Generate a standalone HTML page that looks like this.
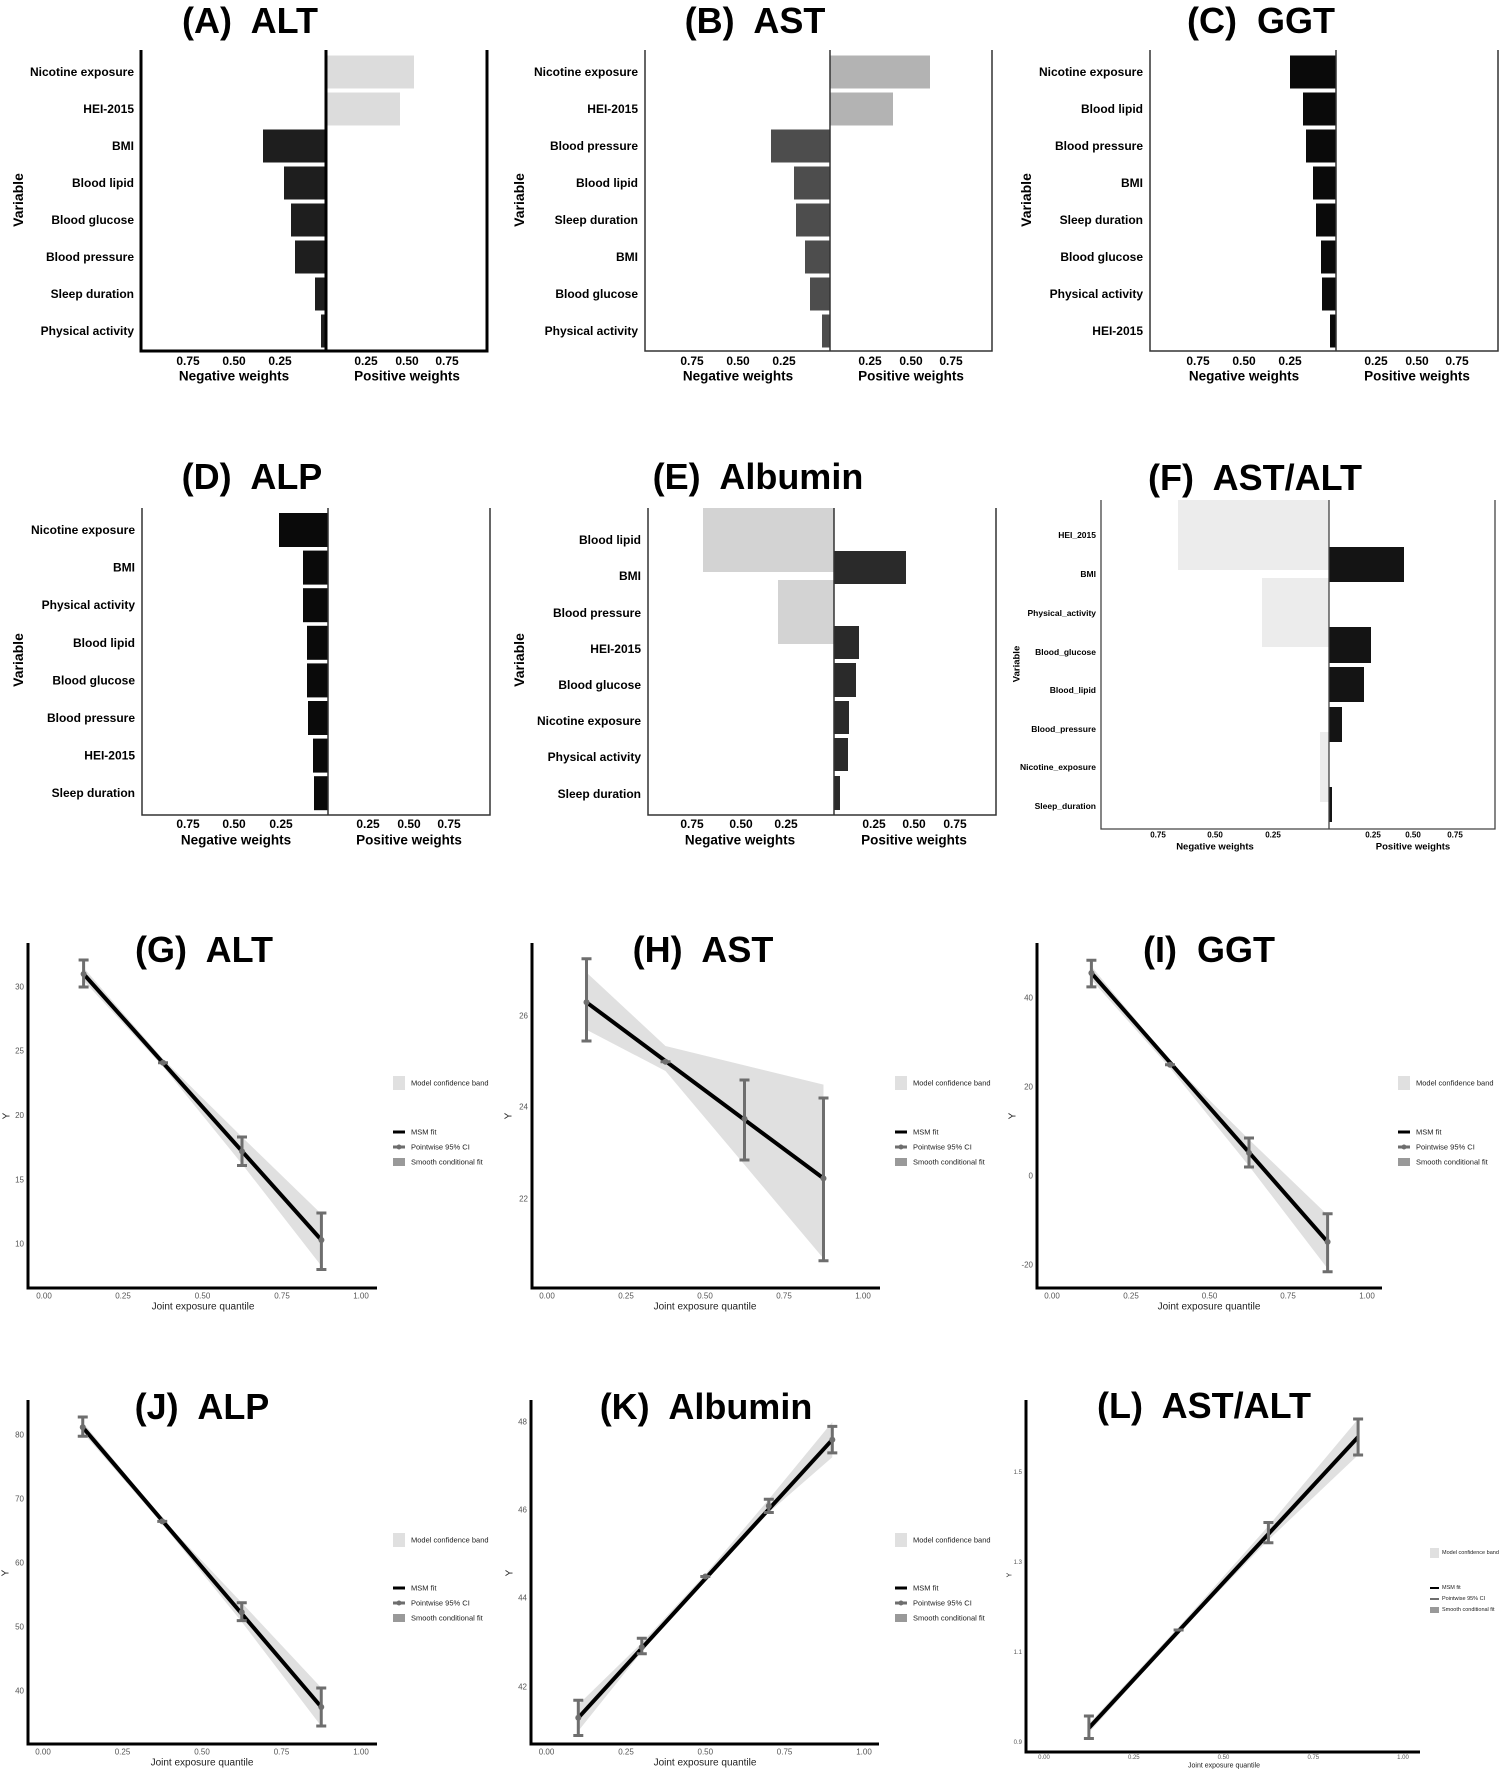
<!DOCTYPE html>
<html><head><meta charset="utf-8"><style>
html,body{margin:0;padding:0;background:#fff}
svg{display:block}
text{font-family:"Liberation Sans",Arial,sans-serif}
.t{font-size:36px;font-weight:bold;text-anchor:middle}
.lb{font-size:12px;font-weight:bold;text-anchor:end;dominant-baseline:central}
.lf{font-size:8.5px;font-weight:bold;text-anchor:end;dominant-baseline:central}
.tk{font-size:12px;font-weight:bold;text-anchor:middle;dominant-baseline:central}
.tkf{font-size:8px;font-weight:bold;text-anchor:middle;dominant-baseline:central}
.at{font-size:13.5px;font-weight:bold;text-anchor:middle;dominant-baseline:central}
.atf{font-size:9.5px;font-weight:bold;text-anchor:middle;dominant-baseline:central}
.vr{font-size:14px;font-weight:bold;text-anchor:middle;dominant-baseline:central}
.yt{font-size:8px;fill:#555;text-anchor:end;dominant-baseline:central}
.xt{font-size:8px;fill:#555;text-anchor:middle;dominant-baseline:central}
.xa{font-size:10px;fill:#222;text-anchor:middle;dominant-baseline:central}
.lg{font-size:7.5px;fill:#222;dominant-baseline:central}
.lgs{font-size:5.5px;fill:#222;dominant-baseline:central}
</style></head><body>
<svg width="1506" height="1772" viewBox="0 0 1506 1772" xmlns="http://www.w3.org/2000/svg">
<rect width="1506" height="1772" fill="#fff"/>

<!-- ===== A ===== -->
<text class="t" x="250" y="33" xml:space="preserve">(A)  ALT</text>
<g fill="#dcdcdc"><rect x="326" y="55.5" width="88" height="33"/><rect x="326" y="92.5" width="74" height="33"/></g>
<g fill="#1e1e1e"><rect x="263" y="129.5" width="63" height="33"/><rect x="284" y="166.5" width="42" height="33"/><rect x="291" y="203.5" width="35" height="33"/><rect x="295" y="240.5" width="31" height="33"/><rect x="315" y="277.5" width="11" height="33"/><rect x="321" y="314.5" width="5" height="33"/></g>
<g stroke="#000" stroke-width="3" fill="none"><path d="M141 50V351H487V50M326 50V351"/></g>
<text class="lb" x="134" y="72">Nicotine exposure</text><text class="lb" x="134" y="109">HEI-2015</text><text class="lb" x="134" y="146">BMI</text><text class="lb" x="134" y="183">Blood lipid</text><text class="lb" x="134" y="220">Blood glucose</text><text class="lb" x="134" y="257">Blood pressure</text><text class="lb" x="134" y="294">Sleep duration</text><text class="lb" x="134" y="331">Physical activity</text>
<text class="tk" x="188" y="361">0.75</text><text class="tk" x="234" y="361">0.50</text><text class="tk" x="280" y="361">0.25</text><text class="tk" x="366" y="361">0.25</text><text class="tk" x="407" y="361">0.50</text><text class="tk" x="447" y="361">0.75</text>
<text class="at" x="234" y="376">Negative weights</text><text class="at" x="407" y="376">Positive weights</text>
<text class="vr" transform="translate(18,200) rotate(-90)">Variable</text>

<!-- ===== B ===== -->
<text class="t" x="755" y="33" xml:space="preserve">(B)  AST</text>
<g fill="#b3b3b3"><rect x="830" y="55.5" width="100" height="33"/><rect x="830" y="92.5" width="63" height="33"/></g>
<g fill="#4d4d4d"><rect x="771" y="129.5" width="59" height="33"/><rect x="794" y="166.5" width="36" height="33"/><rect x="796" y="203.5" width="34" height="33"/><rect x="805" y="240.5" width="25" height="33"/><rect x="810" y="277.5" width="20" height="33"/><rect x="822" y="314.5" width="8" height="33"/></g>
<g stroke="#333" stroke-width="1.5" fill="none"><path d="M645 50V351H992V50M830 50V351"/></g>
<text class="lb" x="638" y="72">Nicotine exposure</text><text class="lb" x="638" y="109">HEI-2015</text><text class="lb" x="638" y="146">Blood pressure</text><text class="lb" x="638" y="183">Blood lipid</text><text class="lb" x="638" y="220">Sleep duration</text><text class="lb" x="638" y="257">BMI</text><text class="lb" x="638" y="294">Blood glucose</text><text class="lb" x="638" y="331">Physical activity</text>
<text class="tk" x="692" y="361">0.75</text><text class="tk" x="738" y="361">0.50</text><text class="tk" x="784" y="361">0.25</text><text class="tk" x="870" y="361">0.25</text><text class="tk" x="911" y="361">0.50</text><text class="tk" x="951" y="361">0.75</text>
<text class="at" x="738" y="376">Negative weights</text><text class="at" x="911" y="376">Positive weights</text>
<text class="vr" transform="translate(519,200) rotate(-90)">Variable</text>

<!-- ===== C ===== -->
<text class="t" x="1261" y="33" xml:space="preserve">(C)  GGT</text>
<g fill="#0a0a0a"><rect x="1290" y="55.5" width="46" height="33"/><rect x="1303" y="92.5" width="33" height="33"/><rect x="1306" y="129.5" width="30" height="33"/><rect x="1313" y="166.5" width="23" height="33"/><rect x="1316" y="203.5" width="20" height="33"/><rect x="1321" y="240.5" width="15" height="33"/><rect x="1322" y="277.5" width="14" height="33"/><rect x="1330" y="314.5" width="6" height="33"/></g>
<g stroke="#333" stroke-width="1.5" fill="none"><path d="M1150 50V351H1498V50M1336 50V351"/></g>
<text class="lb" x="1143" y="72">Nicotine exposure</text><text class="lb" x="1143" y="109">Blood lipid</text><text class="lb" x="1143" y="146">Blood pressure</text><text class="lb" x="1143" y="183">BMI</text><text class="lb" x="1143" y="220">Sleep duration</text><text class="lb" x="1143" y="257">Blood glucose</text><text class="lb" x="1143" y="294">Physical activity</text><text class="lb" x="1143" y="331">HEI-2015</text>
<text class="tk" x="1198" y="361">0.75</text><text class="tk" x="1244" y="361">0.50</text><text class="tk" x="1290" y="361">0.25</text><text class="tk" x="1376" y="361">0.25</text><text class="tk" x="1417" y="361">0.50</text><text class="tk" x="1457" y="361">0.75</text>
<text class="at" x="1244" y="376">Negative weights</text><text class="at" x="1417" y="376">Positive weights</text>
<text class="vr" transform="translate(1026,200) rotate(-90)">Variable</text>

<!-- ===== D ===== -->
<text class="t" x="252" y="489" xml:space="preserve">(D)  ALP</text>
<g fill="#0a0a0a"><rect x="279" y="513" width="49" height="34"/><rect x="303" y="550.6" width="25" height="34"/><rect x="303" y="588.2" width="25" height="34"/><rect x="307" y="625.8" width="21" height="34"/><rect x="307" y="663.4" width="21" height="34"/><rect x="308" y="701" width="20" height="34"/><rect x="313" y="738.6" width="15" height="34"/><rect x="314" y="776.2" width="14" height="34"/></g>
<g stroke="#333" stroke-width="1.5" fill="none"><path d="M142 508V815H490V508M328 508V815"/></g>
<text class="lb" x="135" y="530">Nicotine exposure</text><text class="lb" x="135" y="567.6">BMI</text><text class="lb" x="135" y="605.2">Physical activity</text><text class="lb" x="135" y="642.8">Blood lipid</text><text class="lb" x="135" y="680.4">Blood glucose</text><text class="lb" x="135" y="718">Blood pressure</text><text class="lb" x="135" y="755.6">HEI-2015</text><text class="lb" x="135" y="793.2">Sleep duration</text>
<text class="tk" x="188" y="824">0.75</text><text class="tk" x="234" y="824">0.50</text><text class="tk" x="281" y="824">0.25</text><text class="tk" x="368" y="824">0.25</text><text class="tk" x="409" y="824">0.50</text><text class="tk" x="449" y="824">0.75</text>
<text class="at" x="236" y="840">Negative weights</text><text class="at" x="409" y="840">Positive weights</text>
<text class="vr" transform="translate(18,660) rotate(-90)">Variable</text>

<!-- ===== E ===== -->
<text class="t" x="758" y="489" xml:space="preserve">(E)  Albumin</text>
<g fill="#d3d3d3"><rect x="703" y="508" width="131" height="64"/><rect x="778" y="580" width="56" height="64"/></g>
<g fill="#2a2a2a"><rect x="834" y="551" width="72" height="33"/><rect x="834" y="626" width="25" height="33"/><rect x="834" y="663" width="22" height="34"/><rect x="834" y="701" width="15" height="33"/><rect x="834" y="738" width="14" height="33"/><rect x="834" y="776" width="6" height="34"/></g>
<g stroke="#333" stroke-width="1.5" fill="none"><path d="M648 508V815H996V508M834 508V815"/></g>
<text class="lb" x="641" y="540">Blood lipid</text><text class="lb" x="641" y="576">BMI</text><text class="lb" x="641" y="613">Blood pressure</text><text class="lb" x="641" y="649">HEI-2015</text><text class="lb" x="641" y="685">Blood glucose</text><text class="lb" x="641" y="721">Nicotine exposure</text><text class="lb" x="641" y="757">Physical activity</text><text class="lb" x="641" y="794">Sleep duration</text>
<text class="tk" x="692" y="824">0.75</text><text class="tk" x="741" y="824">0.50</text><text class="tk" x="786" y="824">0.25</text><text class="tk" x="874" y="824">0.25</text><text class="tk" x="914" y="824">0.50</text><text class="tk" x="955" y="824">0.75</text>
<text class="at" x="740" y="840">Negative weights</text><text class="at" x="914" y="840">Positive weights</text>
<text class="vr" transform="translate(519,660) rotate(-90)">Variable</text>

<!-- ===== F ===== -->
<text class="t" x="1255" y="490" xml:space="preserve">(F)  AST/ALT</text>
<g fill="#ececec"><rect x="1178" y="500" width="151" height="70"/><rect x="1262" y="578" width="67" height="69"/><rect x="1320" y="732" width="9" height="70"/></g>
<g fill="#141414"><rect x="1329" y="547" width="75" height="35"/><rect x="1329" y="627" width="42" height="36"/><rect x="1329" y="667" width="35" height="35"/><rect x="1329" y="707" width="13" height="35"/><rect x="1329" y="787" width="3" height="35"/></g>
<g stroke="#444" stroke-width="1.3" fill="none"><path d="M1101 500V829H1495V500M1329 500V829"/></g>
<text class="lf" x="1096" y="535">HEI_2015</text><text class="lf" x="1096" y="574">BMI</text><text class="lf" x="1096" y="613">Physical_activity</text><text class="lf" x="1096" y="652">Blood_glucose</text><text class="lf" x="1096" y="690">Blood_lipid</text><text class="lf" x="1096" y="729">Blood_pressure</text><text class="lf" x="1096" y="767">Nicotine_exposure</text><text class="lf" x="1096" y="806">Sleep_duration</text>
<text class="tkf" x="1158" y="835">0.75</text><text class="tkf" x="1215" y="835">0.50</text><text class="tkf" x="1273" y="835">0.25</text><text class="tkf" x="1373" y="835">0.25</text><text class="tkf" x="1413" y="835">0.50</text><text class="tkf" x="1455" y="835">0.75</text>
<text class="atf" x="1215" y="847">Negative weights</text><text class="atf" x="1413" y="847">Positive weights</text>
<text class="atf" transform="translate(1017,664) rotate(-90)">Variable</text>

<!-- ===== G ===== -->
<text class="t" x="204" y="962" xml:space="preserve">(G)  ALT</text>
<polygon points="83.6,967.8 163,1059 242,1137 321.4,1214 321.4,1266 242,1164 163,1066.6 83.6,980.6" fill="#e0e0e0"/>
<line x1="83.6" y1="974" x2="321.4" y2="1240" stroke="#000" stroke-width="4"/>
<g stroke="#6e6e6e" stroke-width="3" fill="none"><path d="M83.6 987V960M78.6 987H88.6M78.6 960H88.6M242 1165.5V1137M237 1165.5H247M237 1137H247M321.4 1269.5V1213M316.4 1269.5H326.4M316.4 1213H326.4M158 1062.8H168"/></g>
<g fill="#6e6e6e"><circle cx="83.6" cy="974" r="3"/><circle cx="163" cy="1062.8" r="3"/><circle cx="242" cy="1151.4" r="3"/><circle cx="321.4" cy="1240" r="3"/></g>
<path d="M28 943V1288H377" stroke="#000" stroke-width="3" fill="none"/>
<text class="yt" x="24" y="987">30</text><text class="yt" x="24" y="1051">25</text><text class="yt" x="24" y="1115.5">20</text><text class="yt" x="24" y="1180">15</text><text class="yt" x="24" y="1244">10</text>
<text class="xt" x="44" y="1296">0.00</text><text class="xt" x="123" y="1296">0.25</text><text class="xt" x="202.5" y="1296">0.50</text><text class="xt" x="282" y="1296">0.75</text><text class="xt" x="361" y="1296">1.00</text>
<text class="xa" x="203" y="1307">Joint exposure quantile</text>
<text class="xa" transform="translate(7,1116) rotate(-90)">Y</text>
<g><rect x="393" y="1076" width="12" height="14" fill="#e0e0e0"/><text class="lg" x="411" y="1083">Model confidence band</text><line x1="393" y1="1132" x2="405" y2="1132" stroke="#000" stroke-width="3"/><text class="lg" x="411" y="1132">MSM fit</text><line x1="393" y1="1147" x2="405" y2="1147" stroke="#6e6e6e" stroke-width="3"/><circle cx="399" cy="1147" r="2.5" fill="#6e6e6e"/><text class="lg" x="411" y="1147">Pointwise 95% CI</text><rect x="393" y="1158" width="12" height="8" fill="#999"/><text class="lg" x="411" y="1162">Smooth conditional fit</text></g>

<!-- ===== H ===== -->
<text class="t" x="703" y="962" xml:space="preserve">(H)  AST</text>
<polygon points="586.5,972.5 665.5,1046 823.5,1084.6 823.5,1258.5 665.5,1071 586.5,1029.7" fill="#e0e0e0"/>
<line x1="586.5" y1="1002.3" x2="823.5" y2="1178.4" stroke="#000" stroke-width="4"/>
<g stroke="#6e6e6e" stroke-width="3" fill="none"><path d="M586.5 1041V958.8M581.5 1041H591.5M581.5 958.8H591.5M744.5 1160V1080M739.5 1160H749.5M739.5 1080H749.5M823.5 1260.8V1098M818.5 1260.8H828.5M818.5 1098H828.5M660.5 1061.8H670.5"/></g>
<g fill="#6e6e6e"><circle cx="586.5" cy="1002.3" r="3"/><circle cx="665.5" cy="1061.8" r="3"/><circle cx="744.5" cy="1118.9" r="3"/><circle cx="823.5" cy="1178.4" r="3"/></g>
<path d="M532 943V1288H880" stroke="#000" stroke-width="3" fill="none"/>
<text class="yt" x="528" y="1016">26</text><text class="yt" x="528" y="1107">24</text><text class="yt" x="528" y="1199">22</text>
<text class="xt" x="547" y="1296">0.00</text><text class="xt" x="626" y="1296">0.25</text><text class="xt" x="705" y="1296">0.50</text><text class="xt" x="784" y="1296">0.75</text><text class="xt" x="863" y="1296">1.00</text>
<text class="xa" x="705" y="1307">Joint exposure quantile</text>
<text class="xa" transform="translate(509,1116) rotate(-90)">Y</text>
<g><rect x="895" y="1076" width="12" height="14" fill="#e0e0e0"/><text class="lg" x="913" y="1083">Model confidence band</text><line x1="895" y1="1132" x2="907" y2="1132" stroke="#000" stroke-width="3"/><text class="lg" x="913" y="1132">MSM fit</text><line x1="895" y1="1147" x2="907" y2="1147" stroke="#6e6e6e" stroke-width="3"/><circle cx="901" cy="1147" r="2.5" fill="#6e6e6e"/><text class="lg" x="913" y="1147">Pointwise 95% CI</text><rect x="895" y="1158" width="12" height="8" fill="#999"/><text class="lg" x="913" y="1162">Smooth conditional fit</text></g>

<!-- ===== I ===== -->
<text class="t" x="1209" y="962" xml:space="preserve">(I)  GGT</text>
<polygon points="1091.4,966.4 1170,1061 1249,1139.5 1327.6,1215 1327.6,1268.6 1249,1166 1170,1068 1091.4,979.8" fill="#e0e0e0"/>
<line x1="1091.4" y1="973" x2="1327.6" y2="1241.9" stroke="#000" stroke-width="4"/>
<g stroke="#6e6e6e" stroke-width="3" fill="none"><path d="M1091.4 986.9V960.2M1086.4 986.9H1096.4M1086.4 960.2H1096.4M1249 1167V1138M1244 1167H1254M1244 1138H1254M1327.6 1271.7V1213.8M1322.6 1271.7H1332.6M1322.6 1213.8H1332.6M1165 1064.7H1175"/></g>
<g fill="#6e6e6e"><circle cx="1091.4" cy="973" r="3"/><circle cx="1170" cy="1064.7" r="3"/><circle cx="1249" cy="1152.9" r="3"/><circle cx="1327.6" cy="1241.9" r="3"/></g>
<path d="M1037 943V1288H1382" stroke="#000" stroke-width="3" fill="none"/>
<text class="yt" x="1033" y="998">40</text><text class="yt" x="1033" y="1087">20</text><text class="yt" x="1033" y="1176">0</text><text class="yt" x="1033" y="1265">-20</text>
<text class="xt" x="1052" y="1296">0.00</text><text class="xt" x="1131" y="1296">0.25</text><text class="xt" x="1209.5" y="1296">0.50</text><text class="xt" x="1288" y="1296">0.75</text><text class="xt" x="1367" y="1296">1.00</text>
<text class="xa" x="1209" y="1307">Joint exposure quantile</text>
<text class="xa" transform="translate(1013,1116) rotate(-90)">Y</text>
<g><rect x="1398" y="1076" width="12" height="14" fill="#e0e0e0"/><text class="lg" x="1416" y="1083">Model confidence band</text><line x1="1398" y1="1132" x2="1410" y2="1132" stroke="#000" stroke-width="3"/><text class="lg" x="1416" y="1132">MSM fit</text><line x1="1398" y1="1147" x2="1410" y2="1147" stroke="#6e6e6e" stroke-width="3"/><circle cx="1404" cy="1147" r="2.5" fill="#6e6e6e"/><text class="lg" x="1416" y="1147">Pointwise 95% CI</text><rect x="1398" y="1158" width="12" height="8" fill="#999"/><text class="lg" x="1416" y="1162">Smooth conditional fit</text></g>

<!-- ===== J ===== -->
<text class="t" x="202" y="1419" xml:space="preserve">(J)  ALP</text>
<polygon points="82.75,1422.2 162.25,1518.8 241.75,1602.7 321.25,1687.8 321.25,1726.2 241.75,1621.9 162.25,1524 82.75,1432.4" fill="#e0e0e0"/>
<line x1="82.75" y1="1427.3" x2="321.25" y2="1707" stroke="#000" stroke-width="4"/>
<g stroke="#6e6e6e" stroke-width="3" fill="none"><path d="M82.75 1436.3V1417M77.75 1436.3H87.75M77.75 1417H87.75M241.75 1620.6V1602.7M236.75 1620.6H246.75M236.75 1602.7H246.75M321.25 1726V1688M316.25 1726H326.25M316.25 1688H326.25M157.25 1521.4H167.25"/></g>
<g fill="#6e6e6e"><circle cx="82.75" cy="1427.3" r="3"/><circle cx="162.25" cy="1521.4" r="3"/><circle cx="241.75" cy="1612.3" r="3"/><circle cx="321.25" cy="1707" r="3"/></g>
<path d="M28 1400V1744H377" stroke="#000" stroke-width="3" fill="none"/>
<text class="yt" x="24" y="1435">80</text><text class="yt" x="24" y="1499">70</text><text class="yt" x="24" y="1563">60</text><text class="yt" x="24" y="1627">50</text><text class="yt" x="24" y="1691">40</text>
<text class="xt" x="43" y="1752">0.00</text><text class="xt" x="122.5" y="1752">0.25</text><text class="xt" x="202" y="1752">0.50</text><text class="xt" x="281.5" y="1752">0.75</text><text class="xt" x="361" y="1752">1.00</text>
<text class="xa" x="202" y="1763">Joint exposure quantile</text>
<text class="xa" transform="translate(6,1573) rotate(-90)">Y</text>
<g><rect x="393" y="1533" width="12" height="14" fill="#e0e0e0"/><text class="lg" x="411" y="1540">Model confidence band</text><line x1="393" y1="1588" x2="405" y2="1588" stroke="#000" stroke-width="3"/><text class="lg" x="411" y="1588">MSM fit</text><line x1="393" y1="1603" x2="405" y2="1603" stroke="#6e6e6e" stroke-width="3"/><circle cx="399" cy="1603" r="2.5" fill="#6e6e6e"/><text class="lg" x="411" y="1603">Pointwise 95% CI</text><rect x="393" y="1614" width="12" height="8" fill="#999"/><text class="lg" x="411" y="1618">Smooth conditional fit</text></g>

<!-- ===== K ===== -->
<text class="t" x="706" y="1419" xml:space="preserve">(K)  Albumin</text>
<polygon points="578.3,1704.6 641.8,1642.8 705.3,1574.3 768.8,1499.3 832.3,1422 832.3,1457.3 768.8,1512.5 705.3,1578.7 641.8,1651.6 578.3,1731" fill="#e0e0e0"/>
<line x1="578.3" y1="1717.8" x2="832.3" y2="1439.7" stroke="#000" stroke-width="4"/>
<g stroke="#6e6e6e" stroke-width="3" fill="none"><path d="M578.3 1735.5V1700.2M573.3 1735.5H583.3M573.3 1700.2H583.3M641.8 1653.8V1638.3M636.8 1653.8H646.8M636.8 1638.3H646.8M768.8 1512.5V1499.3M763.8 1512.5H773.8M763.8 1499.3H773.8M832.3 1452.9V1426.4M827.3 1452.9H837.3M827.3 1426.4H837.3M700.3 1576.5H710.3"/></g>
<g fill="#6e6e6e"><circle cx="578.3" cy="1717.8" r="3"/><circle cx="641.8" cy="1647.2" r="3"/><circle cx="705.3" cy="1576.5" r="3"/><circle cx="768.8" cy="1505.9" r="3"/><circle cx="832.3" cy="1439.7" r="3"/></g>
<path d="M531 1400V1744H879" stroke="#000" stroke-width="3" fill="none"/>
<text class="yt" x="527" y="1422">48</text><text class="yt" x="527" y="1510">46</text><text class="yt" x="527" y="1598">44</text><text class="yt" x="527" y="1687">42</text>
<text class="xt" x="546.5" y="1752">0.00</text><text class="xt" x="626" y="1752">0.25</text><text class="xt" x="705.3" y="1752">0.50</text><text class="xt" x="784.6" y="1752">0.75</text><text class="xt" x="864" y="1752">1.00</text>
<text class="xa" x="705" y="1763">Joint exposure quantile</text>
<text class="xa" transform="translate(510,1573) rotate(-90)">Y</text>
<g><rect x="895" y="1533" width="12" height="14" fill="#e0e0e0"/><text class="lg" x="913" y="1540">Model confidence band</text><line x1="895" y1="1588" x2="907" y2="1588" stroke="#000" stroke-width="3"/><text class="lg" x="913" y="1588">MSM fit</text><line x1="895" y1="1603" x2="907" y2="1603" stroke="#6e6e6e" stroke-width="3"/><circle cx="901" cy="1603" r="2.5" fill="#6e6e6e"/><text class="lg" x="913" y="1603">Pointwise 95% CI</text><rect x="895" y="1614" width="12" height="8" fill="#999"/><text class="lg" x="913" y="1618">Smooth conditional fit</text></g>

<!-- ===== L ===== -->
<text class="t" x="1204" y="1418" xml:space="preserve">(L)  AST/ALT</text>
<polygon points="1088.9,1723.6 1178.6,1627 1268.4,1526 1358.1,1419 1358.1,1455 1268.4,1540 1178.6,1633 1088.9,1732.6" fill="#e0e0e0"/>
<line x1="1088.9" y1="1728" x2="1358.1" y2="1437" stroke="#000" stroke-width="4"/>
<g stroke="#6e6e6e" stroke-width="3" fill="none"><path d="M1088.9 1738.5V1716M1083.9 1738.5H1093.9M1083.9 1716H1093.9M1268.4 1542.8V1522.5M1263.4 1542.8H1273.4M1263.4 1522.5H1273.4M1358.1 1455V1419M1353.1 1455H1363.1M1353.1 1419H1363.1M1173.6 1630H1183.6"/></g>
<path d="M1026 1400V1752H1420" stroke="#000" stroke-width="3" fill="none"/>
<text class="yt" x="1022" y="1473" style="font-size:6px">1.5</text><text class="yt" x="1022" y="1563" style="font-size:6px">1.3</text><text class="yt" x="1022" y="1653" style="font-size:6px">1.1</text><text class="yt" x="1022" y="1743" style="font-size:6px">0.9</text>
<text class="xt" x="1044" y="1758" style="font-size:6px">0.00</text><text class="xt" x="1133.8" y="1758" style="font-size:6px">0.25</text><text class="xt" x="1223.5" y="1758" style="font-size:6px">0.50</text><text class="xt" x="1313.3" y="1758" style="font-size:6px">0.75</text><text class="xt" x="1403" y="1758" style="font-size:6px">1.00</text>
<text class="xa" x="1224" y="1766" style="font-size:7px">Joint exposure quantile</text>
<text class="xa" transform="translate(1010,1575) rotate(-90)" style="font-size:7px">Y</text>
<g><rect x="1430" y="1548" width="9" height="10" fill="#e0e0e0"/><text class="lgs" x="1442" y="1553">Model confidence band</text><line x1="1430" y1="1588" x2="1439" y2="1588" stroke="#000" stroke-width="2"/><text class="lgs" x="1442" y="1588">MSM fit</text><line x1="1430" y1="1599" x2="1439" y2="1599" stroke="#6e6e6e" stroke-width="2"/><text class="lgs" x="1442" y="1599">Pointwise 95% CI</text><rect x="1430" y="1607" width="9" height="6" fill="#999"/><text class="lgs" x="1442" y="1610">Smooth conditional fit</text></g>
</svg>
</body></html>
